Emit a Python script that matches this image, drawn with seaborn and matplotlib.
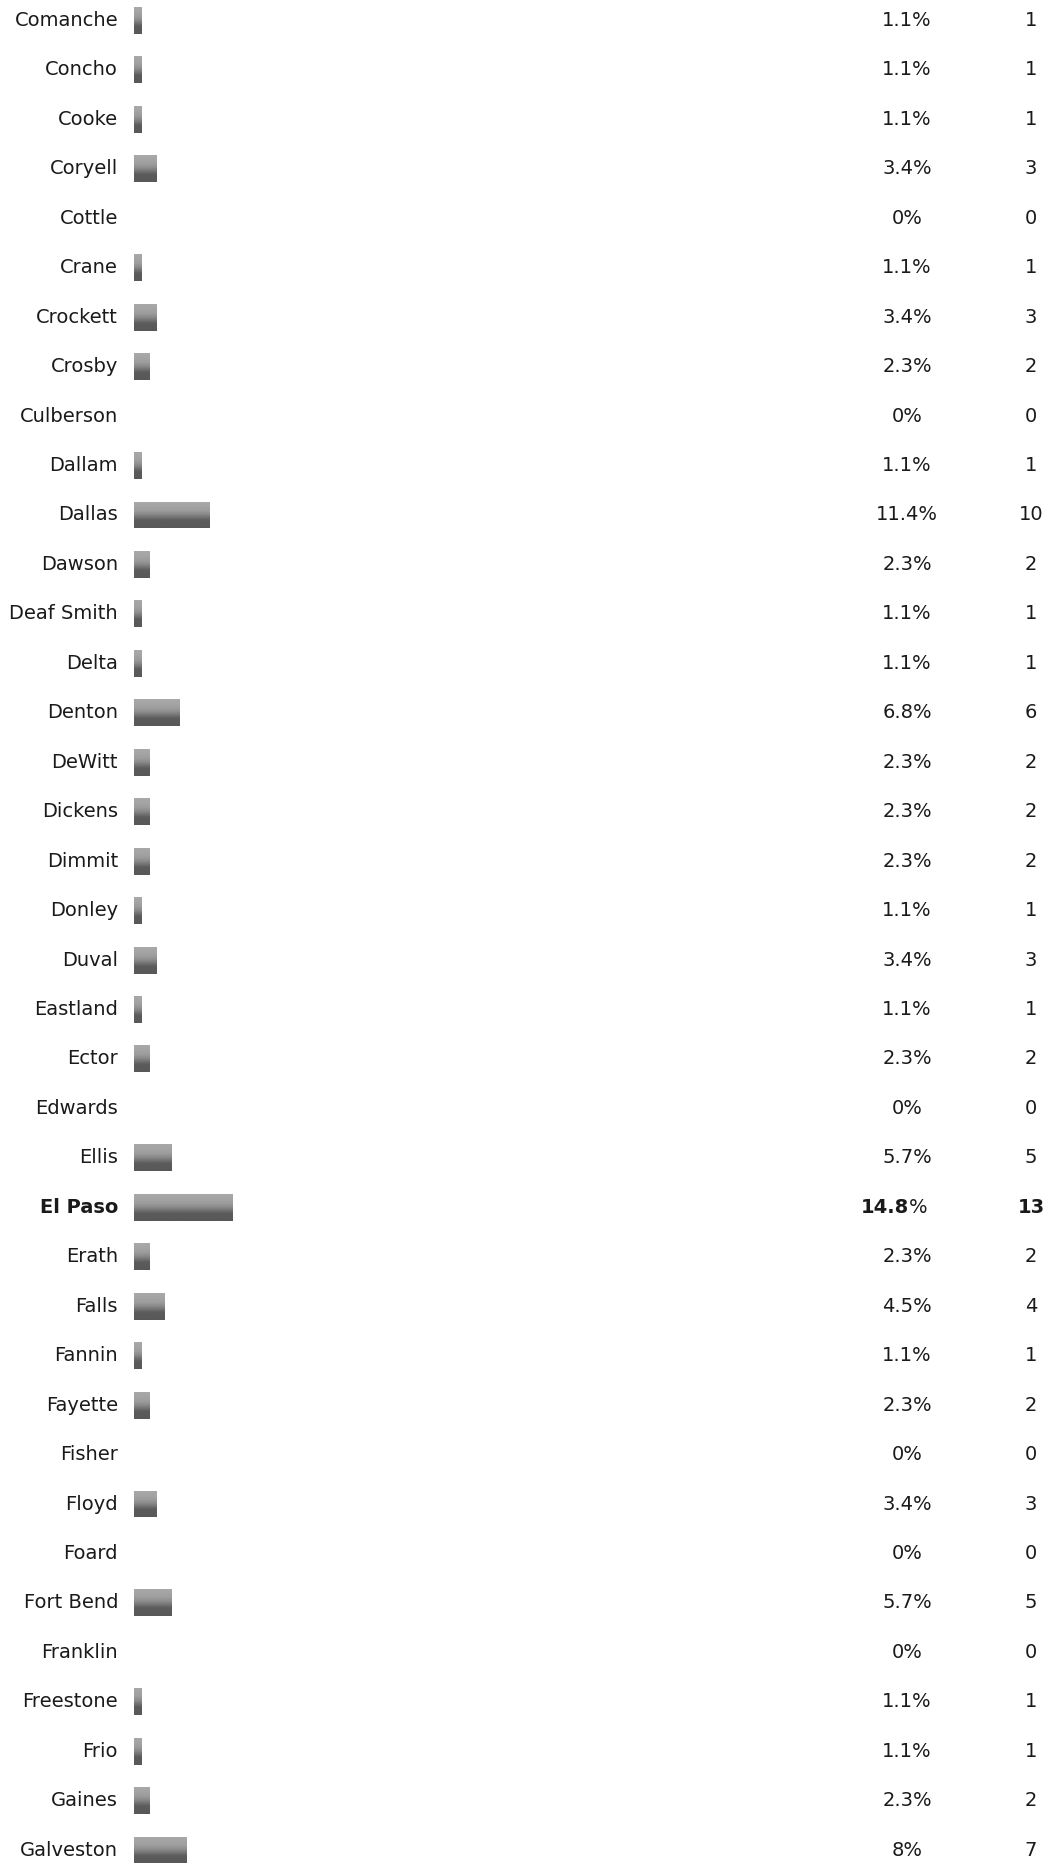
import numpy as np
import pandas as pd
import matplotlib
matplotlib.use("Agg")
import matplotlib.pyplot as plt
import seaborn as sns

counties = ["Comanche", "Concho", "Cooke", "Coryell", "Cottle", "Crane", "Crockett",
            "Crosby", "Culberson", "Dallam", "Dallas", "Dawson", "Deaf Smith", "Delta",
            "Denton", "DeWitt", "Dickens", "Dimmit", "Donley", "Duval", "Eastland",
            "Ector", "Edwards", "Ellis", "El Paso", "Erath", "Falls", "Fannin",
            "Fayette", "Fisher", "Floyd", "Foard", "Fort Bend", "Franklin",
            "Freestone", "Frio", "Gaines", "Galveston"]
counts = [1, 1, 1, 3, 0, 1, 3, 2, 0, 1, 10, 2, 1, 1, 6, 2, 2, 2, 1, 3, 1, 2, 0, 5,
          13, 2, 4, 1, 2, 0, 3, 0, 5, 0, 1, 1, 2, 7]
percents = ["1.1", "1.1", "1.1", "3.4", "0", "1.1", "3.4", "2.3", "0", "1.1", "11.4",
            "2.3", "1.1", "1.1", "6.8", "2.3", "2.3", "2.3", "1.1", "3.4", "1.1", "2.3",
            "0", "5.7", "14.8", "2.3", "4.5", "1.1", "2.3", "0", "3.4", "0", "5.7", "0",
            "1.1", "1.1", "2.3", "8"]
highlight = "El Paso"

df = pd.DataFrame({"county": counties, "count": counts})

W, H = 1057, 1863
fig = plt.figure(figsize=(W / 100, H / 100), dpi=100)
ax = fig.add_axes([0, 0, 1, 1])

row_px = 49.45
first_px = 20.5
bar_h = 27 / row_px

sns.barplot(data=df, y="county", x="count", orient="h", ax=ax,
            color="#808080", width=bar_h, linewidth=0, saturation=1)

# x scale: zero at the bar origin, fixed pixels per unit
x0_px, px_per = 133.5, 7.55
xlim = (-x0_px / px_per, (W - x0_px) / px_per)
ylim = ((H - first_px) / row_px, -first_px / row_px)
ax.axis("off")

# soft banded vertical gray gradient inside each bar
stops = np.array([0.0, 0.2, 0.35, 0.5, 0.62, 0.72, 1.0])
levels = np.array([0xa8, 0xa3, 0x9b, 0x88, 0x70, 0x5c, 0x58]) / 255
steps = np.linspace(0, 1, 18)
grad = np.interp(steps, stops, levels)
img = np.repeat(grad[:, None], 2, axis=1)
for p in list(ax.patches):
    w = p.get_width()
    if w <= 0:
        p.set_visible(False)
        continue
    x, y, h = p.get_x(), p.get_y(), p.get_height()
    im = ax.imshow(img, cmap="gray", vmin=0, vmax=1, aspect="auto",
                   extent=(x, x + w, y + h, y), interpolation="bilinear", zorder=3)
    im.set_clip_path(p)
    p.set_facecolor("none")

ax.set_xlim(*xlim)
ax.set_ylim(*ylim)

txt = "#1a1a1a"
fs = 14.0
tr = ax.get_yaxis_transform()
for i, (name, c, pct) in enumerate(zip(counties, counts, percents)):
    bold = name == highlight
    wgt = "bold" if bold else "normal"
    ax.text(118 / W, i, name, transform=tr, ha="right", va="center",
            fontsize=fs, color=txt, fontweight=wgt)
    ax.text(1031 / W, i, str(c), transform=tr, ha="center", va="center",
            fontsize=fs, color=txt, fontweight=wgt)
    if bold:
        ax.text(909 / W, i, pct, transform=tr, ha="right", va="center",
                fontsize=fs, color=txt, fontweight="bold")
        ax.text(909 / W, i, "%", transform=tr, ha="left", va="center",
                fontsize=fs, color=txt)
    else:
        ax.text(907 / W, i, pct + "%", transform=tr, ha="center", va="center",
                fontsize=fs, color=txt)

fig.savefig("out.png", dpi=100, facecolor="white")
